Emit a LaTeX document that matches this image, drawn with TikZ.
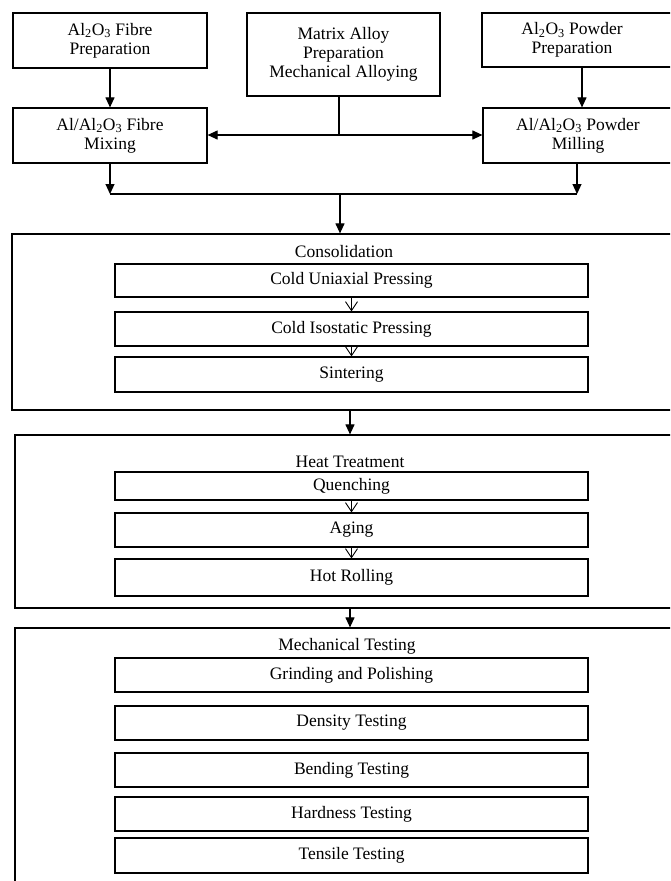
\documentclass[tikz,border=0pt]{standalone}
\usepackage{fontspec}
\setmainfont{Liberation Serif}
\usetikzlibrary{arrows.meta}
\newcommand{\AlO}{Al\textsubscript{2}O\textsubscript{3}}
\begin{document}
\begin{tikzpicture}[x=1pt,y=-1pt,
  every node/.style={font=\fontsize{17.5}{19}\selectfont},
  box/.style={draw, line width=1.2pt, align=center, inner sep=0pt},
  plain/.style={align=center, inner sep=0pt},
  arr/.style={line width=1.1pt, -{Triangle[length=10pt,width=9pt]}},
  varr/.style={line width=0.9pt, -{Straight Barb[length=9pt,width=12pt]}},
  ln/.style={line width=1.1pt}]
\clip (0,0) rectangle (670,881);
\fill[white] (0,0) rectangle (670,881);
% top row
\node[box, minimum width=194pt, minimum height=55pt] (A) at (110,40.5) {\AlO{} Fibre\\Preparation};
\node[box, minimum width=193pt, minimum height=83pt] (B) at (343.5,54.5) {Matrix Alloy\\Preparation\\Mechanical Alloying};
\node[box, minimum width=278pt, minimum height=54pt] (C) at (621,40) {};
\node[plain] (Ct) at (572,40) {\AlO{} Powder\\Preparation};
% second row
\node[box, minimum width=194pt, minimum height=55pt] (D) at (110,135.5) {Al/\AlO{} Fibre\\Mixing};
\node[box, minimum width=277pt, minimum height=55pt] (E) at (621.5,135.5) {};
\node[plain] (Et) at (578,135.5) {Al/\AlO{} Powder\\Milling};
% connectors top
\draw[arr] (A) -- (D);
\coordinate (cx) at (582,67);
\draw[arr] (cx) -- (cx |- E.north);
\coordinate (J) at (339,135);
\draw[ln] (J |- B.south) -- (J);
\draw[arr] (J) -- (J -| D.east);
\draw[arr] (J) -- (J -| E.west);
\coordinate (L) at (110,194);
\coordinate (R) at (577,194);
\coordinate (M) at (340,194);
\draw[arr] (D.south) -- (L);
\draw[arr] (R |- E.south) -- (R);
\draw[ln] (L) -- (R);
% consolidation
\node[box, minimum width=748pt, minimum height=176pt] (CON) at (386,322) {};
\draw[arr] (M) -- (M |- CON.north);
\node[plain] (CONt) at (344,252) {Consolidation};
\node[box, minimum width=473pt, minimum height=33pt] (CU) at (351.5,280.5) {Cold Uniaxial Pressing};
\node[box, minimum width=473pt, minimum height=34pt] (CI) at (351.5,329) {Cold Isostatic Pressing};
\node[box, minimum width=473pt, minimum height=35pt] (SI) at (351.5,374.5) {Sintering};
\draw[varr] (CU) -- (CI);
\draw[varr] (CI) -- (SI);
% heat treatment
\node[box, minimum width=745pt, minimum height=173pt] (HT) at (387.5,521.5) {};
\coordinate (k1) at (350,410);
\draw[arr] (k1) -- (k1 |- HT.north);
\node[plain] (HTt) at (350,462) {Heat Treatment};
\node[box, minimum width=473pt, minimum height=28pt] (Q) at (351.5,486) {Quenching};
\node[box, minimum width=473pt, minimum height=34pt] (AG) at (351.5,530) {Aging};
\node[box, minimum width=473pt, minimum height=37pt] (HR) at (351.5,577.5) {Hot Rolling};
\draw[varr] (Q) -- (AG);
\draw[varr] (AG) -- (HR);
% mechanical testing
\node[box, minimum width=745pt, minimum height=292pt] (MT) at (387.5,774) {};
\coordinate (k2) at (350,608);
\draw[arr] (k2) -- (k2 |- MT.north);
\node[plain] (MTt) at (347,646) {Mechanical Testing};
\node[box, minimum width=473pt, minimum height=34pt] (GP) at (351.5,675) {Grinding and Polishing};
\node[box, minimum width=473pt, minimum height=34pt] (DT) at (351.5,723) {Density Testing};
\node[box, minimum width=473pt, minimum height=34pt] (BT) at (351.5,770) {Bending Testing};
\node[box, minimum width=473pt, minimum height=34pt] (HD) at (351.5,814) {Hardness Testing};
\node[box, minimum width=473pt, minimum height=35pt] (TT) at (351.5,855.5) {Tensile Testing};
\end{tikzpicture}
\end{document}
